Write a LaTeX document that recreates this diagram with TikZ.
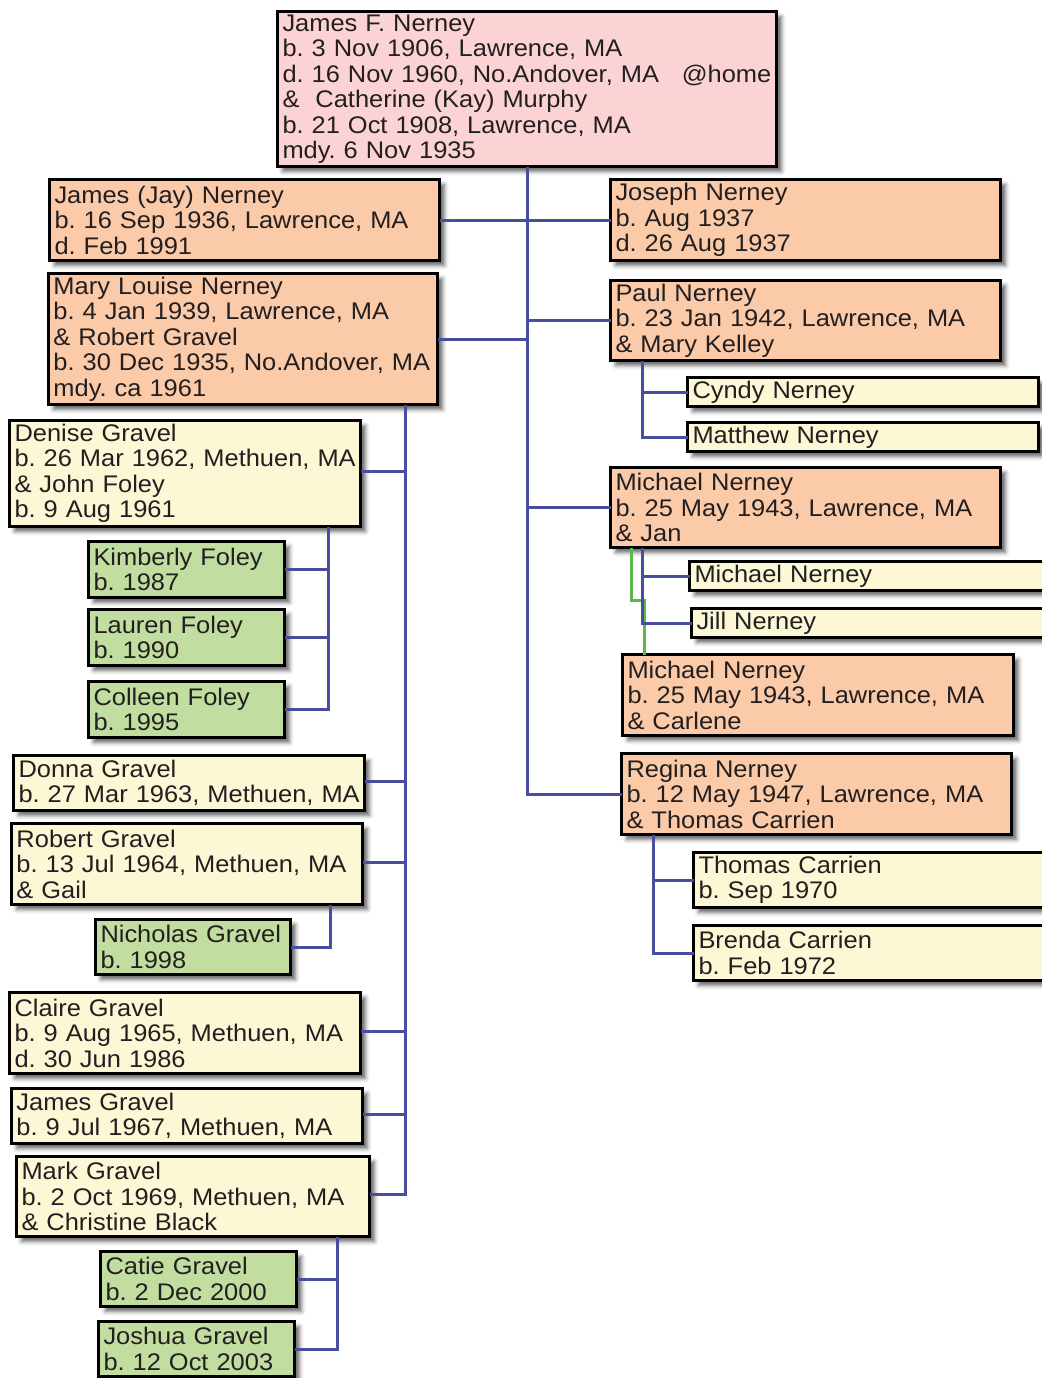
\documentclass[tikz,border=0pt]{standalone}
\usepackage{fontspec}
\setmainfont[FakeStretch=1.06]{Liberation Sans}
\usetikzlibrary{shadows.blur}
\definecolor{pinkfill}{HTML}{FBD3D5}
\definecolor{orangefill}{HTML}{FBCAA8}
\definecolor{yellowfill}{HTML}{FCF7D5}
\definecolor{greenfill}{HTML}{C1DEA0}
\definecolor{linkblue}{HTML}{474EA0}
\definecolor{linkgreen}{HTML}{5BB94A}
\definecolor{txt}{HTML}{231F20}
\tikzset{
  fam/.style={draw=black, line width=1.5pt, anchor=north west, align=left,
    inner xsep=2.5pt, inner ysep=0pt, outer sep=0pt, text=txt,
    xshift=0.75pt, yshift=-0.75pt,
    font=\fontsize{12pt}{12.75pt}\selectfont\frenchspacing,
    blur shadow={shadow xshift=2.5pt, shadow yshift=-2.5pt, shadow blur radius=2pt, shadow opacity=60}},
  sz/.style n args={2}{minimum width=#1pt-1.5pt, minimum height=#2pt-1.5pt, text width=#1pt-6.5pt},
  pinkbox/.style={fam, fill=pinkfill},
  orangebox/.style={fam, fill=orangefill},
  yellowbox/.style={fam, fill=yellowfill},
  greenbox/.style={fam, fill=greenfill},
  link/.style={draw=linkblue, line width=1.5pt},
  glink/.style={draw=linkgreen, line width=1.5pt},
}
\begin{document}
\begin{tikzpicture}[x=0.5pt, y=-0.5pt]
\useasboundingbox (0,0) rectangle (1042,1378);
% generation 1
\node[pinkbox, sz={251}{79}] (root) at (276,10) {James F. Nerney\\b.~3~Nov~1906,~Lawrence,~MA\\d.~16~Nov~1960,~No.Andover,~MA\nobreak\hspace{0.95em}\nobreak@home\\\& \ Catherine (Kay) Murphy\\b.~21~Oct~1908,~Lawrence,~MA\\mdy. 6 Nov 1935};
% generation 2
\node[orangebox, sz={196.5}{42}] (jay) at (48,178) {James (Jay) Nerney\\b.~16~Sep~1936,~Lawrence,~MA\\d. Feb 1991};
\node[orangebox, sz={196.5}{42}] (joseph) at (609,178) {Joseph Nerney\\b. Aug 1937\\d. 26 Aug 1937};
\node[orangebox, sz={196}{67}] (mary) at (47,272) {Mary Louise Nerney\\b.~4~Jan~1939,~Lawrence,~MA\\\& Robert Gravel\\b.~30~Dec~1935,~No.Andover,~MA\\mdy. ca 1961};
\node[orangebox, sz={196.5}{41.5}] (paul) at (609,279) {Paul Nerney\\b.~23~Jan~1942,~Lawrence,~MA\\\& Mary Kelley};
\node[orangebox, sz={196.5}{41.5}] (michaelJ) at (609,466) {Michael Nerney\\b.~25~May~1943,~Lawrence,~MA\\\& Jan};
\node[orangebox, sz={197}{42}] (michaelK) at (621,653) {Michael Nerney\\b.~25~May~1943,~Lawrence,~MA\\\& Carlene};
\node[orangebox, sz={196.5}{42}] (regina) at (620,752) {Regina Nerney\\b.~12~May~1947,~Lawrence,~MA\\\& Thomas Carrien};
% generation 3 right
\node[yellowbox, sz={177}{16}] (cyndy) at (686,376) {Cyndy Nerney};
\node[yellowbox, sz={177}{16}] (matthew) at (686,421) {Matthew Nerney};
\node[yellowbox, sz={180}{16}] (michaelC) at (688,560) {Michael Nerney};
\node[yellowbox, sz={180}{16}] (jill) at (690,607) {Jill Nerney};
\node[yellowbox, sz={180}{29}] (thomas) at (692,851) {Thomas Carrien\\b. Sep 1970};
\node[yellowbox, sz={180}{29}] (brenda) at (692,924) {Brenda Carrien\\b. Feb 1972};
% generation 3 left
\node[yellowbox, sz={177}{54.5}] (denise) at (8,419) {Denise Gravel\\b.~26~Mar~1962,~Methuen,~MA\\\& John Foley\\b. 9 Aug 1961};
\node[yellowbox, sz={177}{29}] (donna) at (12,754) {Donna Gravel\\b.~27~Mar~1963,~Methuen,~MA};
\node[yellowbox, sz={177}{42}] (robert) at (10,822) {Robert Gravel\\b.~13~Jul~1964,~Methuen,~MA\\\& Gail};
\node[yellowbox, sz={177}{42}] (claire) at (8,991) {Claire Gravel\\b.~9~Aug~1965,~Methuen,~MA\\d. 30 Jun 1986};
\node[yellowbox, sz={177}{29}] (jamesG) at (10,1087) {James Gravel\\b.~9~Jul~1967,~Methuen,~MA};
\node[yellowbox, sz={178}{41.5}] (mark) at (15,1155) {Mark Gravel\\b.~2~Oct~1969,~Methuen,~MA\\\& Christine Black};
% generation 4
\node[greenbox, sz={99.5}{29.5}] (kimberly) at (87,540) {Kimberly Foley\\b. 1987};
\node[greenbox, sz={99.5}{29.5}] (lauren) at (87,608) {Lauren Foley\\b. 1990};
\node[greenbox, sz={99.5}{29.5}] (colleen) at (87,680) {Colleen Foley\\b. 1995};
\node[greenbox, sz={99}{29}] (nicholas) at (94,918) {Nicholas~Gravel\\b. 1998};
\node[greenbox, sz={99.5}{29}] (catie) at (99,1250) {Catie Gravel\\b. 2 Dec 2000};
\node[greenbox, sz={99.5}{29}] (joshua) at (97,1320) {Joshua Gravel\\b. 12 Oct 2003};
% connectors
\draw[glink] ([xshift=10.5pt]michaelJ.south west) -- ++(0,-26.5pt) -| ([xshift=11pt]michaelK.north west);
\draw[link] (root.south) |- (regina.west);
\draw[link] (jay.east) -- (joseph.west);
\draw[link] (mary.east) -- (mary.east -| root.south);
\draw[link] (paul.west -| root.south) -- (paul.west);
\draw[link] (michaelJ.west -| root.south) -- (michaelJ.west);
\coordinate (mtrunk) at ([xshift=-16pt]mary.south east);
\draw[link] (mtrunk) |- ([yshift=1pt]mark.east);
\foreach \n in {denise, donna, robert, claire, jamesG}
  \draw[link] ([yshift=1pt]\n.east) -- ([yshift=1pt]\n.east -| mtrunk);
\coordinate (dtrunk) at ([xshift=-16pt]denise.south east);
\draw[link] (dtrunk) |- (colleen.east);
\foreach \n in {kimberly, lauren}
  \draw[link] (\n.east) -- (\n.east -| dtrunk);
\draw[link] ([xshift=-16pt]robert.south east) |- (nicholas.east);
\coordinate (ktrunk) at ([xshift=-16pt]mark.south east);
\draw[link] (ktrunk) |- (joshua.east);
\draw[link] (catie.east) -- (catie.east -| ktrunk);
\coordinate (ptrunk) at ([xshift=16pt]paul.south west);
\draw[link] (ptrunk) |- (matthew.west);
\draw[link] (cyndy.west -| ptrunk) -- (cyndy.west);
\coordinate (jtrunk) at ([xshift=16pt]michaelJ.south west);
\draw[link] (jtrunk) |- (jill.west);
\draw[link] (michaelC.west -| jtrunk) -- (michaelC.west);
\coordinate (rtrunk) at ([xshift=16pt]regina.south west);
\draw[link] (rtrunk) |- (brenda.west);
\draw[link] (thomas.west -| rtrunk) -- (thomas.west);
\end{tikzpicture}
\end{document}
